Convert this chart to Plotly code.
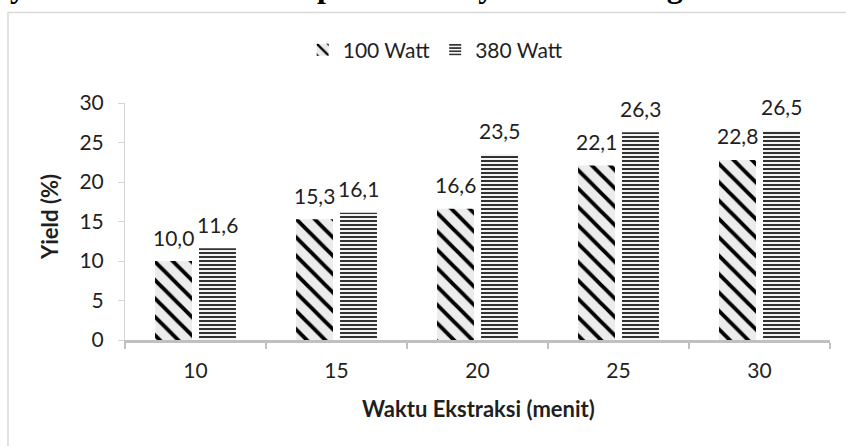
import plotly.graph_objects as go

# Extraction time (minutes) and oil yield (%) for two microwave powers
waktu = ["10", "15", "20", "25", "30"]
yield_100w = [10.0, 15.3, 16.6, 22.1, 22.8]
yield_380w = [11.6, 16.1, 23.5, 26.3, 26.5]
series_names = ["100 Watt", "380 Watt"]
y_ticks = [0, 5, 10, 15, 20, 25, 30]

FONT = "Lato"
TXT = "#1f1f1f"
FS = 21

fig = go.Figure()
fig.add_trace(go.Bar(
    x=waktu, y=yield_100w, name=series_names[0],
    marker=dict(color="#ececec", line=dict(width=0),
                pattern=dict(shape="\\", size=13, solidity=0.3, fgopacity=1,
                             fgcolor="#000000", bgcolor="#ececec")),
))
fig.add_trace(go.Bar(
    x=waktu, y=yield_380w, name=series_names[1],
    marker=dict(color="#f4f4f4", line=dict(width=0),
                pattern=dict(shape="-", size=4, solidity=0.4, fgopacity=1,
                             fgcolor="#000000", bgcolor="#f4f4f4")),
))

# value labels above each bar (comma as decimal separator)
bargap, groupgap = 0.376, 0.16
slot = (1 - bargap) / 2
annotations = []
for k, vals in enumerate([yield_100w, yield_380w]):
    off = (k - 0.5) * slot
    for i, v in enumerate(vals):
        annotations.append(dict(
            x=i + off, y=v, xref="x", yref="y", text=f"{v:.1f}".replace(".", ","),
            showarrow=False, xanchor="center", yanchor="middle", yshift=24,
            font=dict(family=FONT, size=FS, color=TXT)))

# axis titles
annotations.append(dict(x=-0.1064, y=0.519, xref="paper", yref="paper",
                        xanchor="center", yanchor="middle",
                        text="<b>Yield (%)</b>", textangle=-90, showarrow=False,
                        font=dict(family=FONT, size=22, color=TXT)))
annotations.append(dict(x=0.502, y=-0.287, xref="paper", yref="paper",
                        xanchor="center", yanchor="middle",
                        text="<b>Waktu Ekstraksi (menit)</b>", showarrow=False,
                        font=dict(family=FONT, size=22, color=TXT)))

# figure caption running along the top edge
annotations.append(dict(x=-0.2212, y=1.41, xref="paper", yref="paper",
                        xanchor="left", yanchor="bottom",
                        text="<b>Daya Microwave terhadap Yield Minyak Hasil Pengambilan</b>",
                        showarrow=False,
                        font=dict(family="Liberation Serif", size=32, color="#000000")))

fig.update_layout(
    width=846, height=446,
    margin=dict(l=125, r=16, t=103, b=106, autoexpand=False),
    paper_bgcolor="white", plot_bgcolor="white",
    barmode="group", bargap=bargap, bargroupgap=groupgap,
    font=dict(family=FONT, size=FS, color=TXT),
    showlegend=True,
    legend=dict(orientation="h", x=0.44, y=1.2236, xanchor="center", yanchor="middle",
                font=dict(family=FONT, size=FS, color=TXT), bgcolor="rgba(0,0,0,0)"),
    annotations=annotations,
    shapes=[dict(type="rect", xref="paper", yref="paper",
                 x0=-0.166, x1=1.5, y0=-1.0, y1=1.3819,
                 line=dict(color="#d9d9d9", width=1.5), fillcolor="rgba(0,0,0,0)",
                 layer="below")],
)
fig.update_xaxes(type="category", range=[-0.5, 4.5], showline=True,
                 linecolor="#c0c0c0", linewidth=3, ticks="outside",
                 tickson="boundaries", ticklen=6, tickwidth=2, tickcolor="#c0c0c0",
                 showgrid=False, zeroline=False, ticklabelstandoff=10,
                 tickfont=dict(family=FONT, size=FS, color=TXT))
fig.update_yaxes(range=[0, 30], tickvals=y_ticks, showline=True,
                 linecolor="#d6d6d6", linewidth=1, ticks="outside", ticklen=6,
                 tickwidth=1, tickcolor="#d6d6d6", showgrid=False, zeroline=False,
                 ticklabelstandoff=10,
                 tickfont=dict(family=FONT, size=FS, color=TXT))

fig.write_html("out.html")
